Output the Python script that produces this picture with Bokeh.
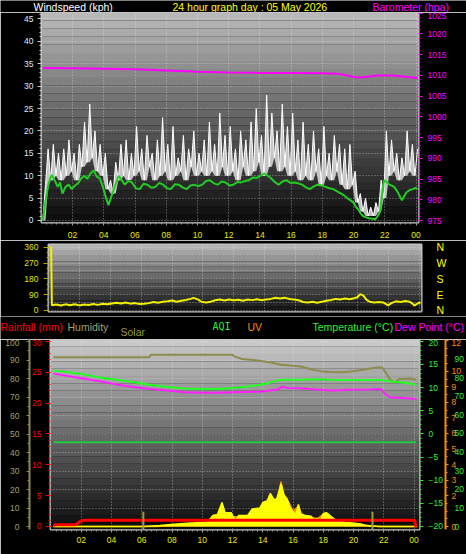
import numpy as np
from bokeh.plotting import figure
from bokeh.models import (Range1d, LinearAxis, FixedTicker, Grid)
from bokeh.layouts import column
from bokeh.embed import file_html
from bokeh.resources import INLINE
from bokeh.core.properties import value

# ------------------------------------------------------------------ data
HOUR_TICKS = [2, 4, 6, 8, 10, 12, 14, 16, 18, 20, 22, 24]
HOUR_LABELS = ["02", "04", "06", "08", "10", "12", "14", "16", "18", "20", "22", "00"]

# wind gust (kph), one reading every 10 minutes from 00:06
gust = [0, 8, 16, 9, 17, 10, 15, 9, 16, 10, 18, 11, 15, 9, 17, 12, 22, 13, 26, 14,
        20, 11, 17, 10, 15, 7, 9, 6, 13, 9, 17, 10, 18, 9, 15, 10, 21, 11, 16, 9,
        19, 12, 15, 9, 18, 10, 23, 11, 17, 9, 21, 10, 14, 11, 19, 9, 16, 12, 20, 10,
        15, 11, 18, 10, 22, 11, 17, 10, 24, 12, 19, 10, 21, 11, 16, 9, 20, 12, 18, 10,
        22, 11, 25, 13, 19, 10, 28, 12, 24, 14, 20, 11, 26, 12, 21, 10, 24, 11, 18, 9,
        22, 10, 17, 9, 20, 11, 16, 8, 21, 10, 15, 9, 19, 11, 17, 8, 16, 7, 17, 8,
        11, 4, 6, 2, 5, 1, 3, 1, 4, 2, 9, 5, 20, 10, 18, 11, 15, 9, 14, 10,
        20, 11, 17, 10, 16]
gust_t = [round(0.1 + i / 6, 4) for i in range(len(gust))]

# average wind speed (kph)
avg_t = [0.10, 0.25, 0.45, 0.65, 0.85, 1.05, 1.2, 1.35, 1.55, 1.75, 1.95, 2.15, 2.35, 2.55, 2.75,
         2.95, 3.15, 3.35, 3.55, 3.75, 3.95, 4.15, 4.3, 4.45, 4.6, 4.8, 4.95, 5.15, 5.35, 5.55,
         5.8, 6.05, 6.3, 6.55, 6.8, 7.05, 7.3, 7.55, 7.8, 8.05, 8.3, 8.55, 8.8, 9.05, 9.3,
         9.55, 9.8, 10.05, 10.3, 10.55, 10.8, 11.05, 11.3, 11.55, 11.8, 12.05, 12.3, 12.55, 12.8, 13.05,
         13.3, 13.55, 13.8, 14.05, 14.3, 14.5, 14.7, 14.95, 15.2, 15.45, 15.7, 15.95, 16.2, 16.45, 16.7,
         16.95, 17.2, 17.45, 17.7, 17.95, 18.2, 18.45, 18.7, 18.95, 19.2, 19.4, 19.6, 19.8, 20.0, 20.15,
         20.3, 20.45, 20.6, 20.8, 21.0, 21.2, 21.4, 21.55, 21.7, 21.8, 21.95, 22.15, 22.3, 22.45, 22.6,
         22.8, 22.95, 23.1, 23.25, 23.4, 23.6, 23.8, 23.95, 24.1]
avg = [0, 4, 8, 10.2, 9, 7.5, 8.5, 6, 7.5, 8, 7, 7.8, 8.3, 9.4, 10,
       9.3, 10.5, 11.2, 9.8, 9.4, 7.4, 5, 3.4, 5, 6.6, 8.5, 10, 9, 8, 8.8,
       8.5, 7.2, 7, 8.2, 8, 7.3, 7.5, 8.4, 8, 7.2, 7, 8.1, 8, 7.4, 7,
       7.8, 8, 7.6, 8, 8.8, 9, 8.3, 8, 8.7, 8.5, 7.8, 8, 8.6, 8.5, 8.8,
       9, 9.6, 9.5, 10, 10.5, 10, 9.5, 8.6, 8, 8.7, 9, 8.4, 8.5, 8.3, 8,
       7.4, 7, 7.6, 8, 7.8, 7.5, 7.2, 7, 6.5, 6, 5.6, 5, 4.5, 4, 3,
       2.5, 1.6, 1, 0.7, 0.5, 0.4, 0.3, 1, 2, 5, 9, 8.5, 8, 7.8, 7.5,
       6.5, 5.5, 4.5, 5.5, 6.3, 6.8, 7, 7.3, 7]

# barometer (hPa)
baro_t = [0.1, 2, 4, 6, 8, 10, 12, 14, 16, 18, 19, 19.6, 20.2, 20.8, 21.5, 22.5, 23.3, 24.1]
baro = [1011.8, 1011.7, 1011.6, 1011.5, 1011.2, 1010.9, 1010.7, 1010.6, 1010.6,
        1010.5, 1010.4, 1010.0, 1009.5, 1009.6, 1010.0, 1010.0, 1009.7, 1009.4]

# wind direction (degrees)
dir_t = [0.10, 0.17, 0.22, 0.5, 0.8, 1.1, 1.4, 1.7, 2.0, 2.3, 2.6, 2.9, 3.2, 3.5, 3.8, 4.1, 4.4,
         4.7, 5.0, 5.3, 5.6, 5.9, 6.2, 6.5, 6.8, 7.1, 7.4, 7.7, 8.0, 8.3, 8.6, 8.9, 9.2, 9.4,
         9.7, 9.9, 10.2, 10.5, 10.8, 11.1, 11.4, 11.7, 12.0, 12.3, 12.6, 12.9, 13.2, 13.5, 13.8,
         14.1, 14.4, 14.7, 15.0, 15.3, 15.6, 15.9, 16.2, 16.5, 16.8, 17.1, 17.4, 17.7, 18.0, 18.3,
         18.6, 18.9, 19.2, 19.5, 19.8, 20.0, 20.2, 20.4, 20.6, 20.8, 21.1, 21.4, 21.7, 21.9, 22.0,
         22.2, 22.5, 22.8, 23.1, 23.4, 23.6, 23.7, 23.9, 24.1]
wdir = [360, 360, 30, 34, 28, 35, 30, 36, 29, 34, 31, 37, 32, 38, 36, 40, 44,
        40, 45, 39, 42, 37, 38, 42, 48, 44, 50, 53, 57, 50, 55, 60, 66, 72,
        62, 50, 46, 50, 58, 62, 57, 63, 58, 61, 56, 62, 59, 64, 58,
        62, 66, 72, 68, 73, 65, 62, 58, 48, 45, 50, 44, 50, 55, 60,
        66, 62, 68, 64, 70, 75, 93, 85, 60, 50, 46, 48, 45, 35, 28,
        42, 52, 48, 54, 50, 38, 28, 40, 47]

# humidity (%)
hum_t = [0.16, 6.5, 6.6, 12.0, 12.1, 12.6, 13.4, 14.0, 14.6, 15.2, 15.8, 16.5, 17.2, 17.8,
         18.5, 19.3, 20.0, 20.6, 21.2, 21.6, 21.9, 22.1, 22.4, 22.7, 23.0, 23.7, 24.16]
hum = [91.5, 91.5, 92.8, 92.8, 92.0, 90.6, 90.0, 89.3, 88.5, 87.5, 87.0, 86.5, 85.0, 84.0,
       83.5, 83.4, 84.0, 84.8, 85.5, 86.0, 86.0, 83.5, 79.8, 77.5, 79.8, 80.0, 79.3]

# temperature and dew point (deg C)
temp_t = [0.16, 0.6, 1.9, 3.3, 4.4, 5.4, 6.5, 7.7, 8.8, 9.9, 11.0, 12.0, 13.0, 13.8,
          14.4, 14.9, 15.3, 16.5, 17.5, 18.6, 19.8, 21.0, 21.9, 22.5, 23.0, 23.6, 24.16]
temp = [13.7, 13.5, 13.0, 12.1, 11.7, 11.2, 10.6, 10.1, 9.8, 9.7, 9.7, 9.9, 10.2, 10.6,
        11.0, 11.5, 11.7, 11.7, 11.8, 11.7, 11.6, 11.6, 11.6, 11.3, 11.15, 10.9, 10.6]
dew_t = [0.16, 1.3, 3.3, 4.4, 5.4, 6.5, 7.7, 8.8, 9.9, 11.0, 12.0, 13.8, 15.0, 15.3,
         15.6, 16.4, 17.5, 18.6, 19.8, 21.0, 21.8, 22.1, 22.4, 23.0, 23.6, 24.16]
dew = [13.0, 12.4, 11.3, 10.6, 10.1, 9.7, 9.35, 9.0, 8.85, 8.9, 9.0, 9.1, 9.6, 10.2,
       9.9, 9.85, 9.6, 9.35, 9.5, 9.6, 9.7, 8.6, 7.9, 7.8, 7.7, 7.5]

# air quality index
aqi_t = [0.16, 24.16]
aqi = [45.3, 45.3]

# rainfall (mm)
rain_t = [0.16, 0.3, 1.6, 1.75, 1.85, 2.0, 2.1, 24.05, 24.1, 24.16]
rain = [0.2, 0.3, 0.3, 0.5, 0.7, 0.9, 1.0, 1.0, 0.0, 0.0]

# solar radiation (W/m2)
solar_t = [0.16, 6.1, 7.2, 8.5, 9.5, 10.3, 10.5, 10.7, 11.0, 11.3, 11.5, 11.9, 12.2, 12.4,
           13.0, 13.3, 13.8, 14.0, 14.3, 14.5, 14.7, 14.9, 15.1, 15.2, 15.4, 15.6, 15.8,
           16.0, 16.2, 16.35, 16.5, 16.8, 17.2, 17.4, 17.6, 17.8, 18.0, 18.2, 18.5, 18.9,
           19.5, 20.4, 20.8, 21.5, 21.8, 24.16]
solar = [0, 0, 5, 15, 20, 25, 40, 60, 65, 130, 75, 75, 30, 60,
         60, 95, 100, 130, 140, 180, 150, 145, 200, 230, 170, 150, 100,
         80, 65, 120, 70, 60, 55, 30, 45, 30, 70, 75, 55, 30,
         22, 15, 5, 2, 0, 0]

# UV index
uv_t = [0.16, 7.0, 8.0, 9.5, 10.4, 10.5, 11.0, 11.3, 11.6, 12.0, 12.5, 13.0, 13.3, 13.8,
        14.2, 14.5, 14.8, 15.0, 15.2, 15.4, 15.7, 16.0, 16.35, 16.6, 17.2, 17.6, 18.0,
        18.3, 18.6, 19.0, 20.0, 20.5, 21.0, 21.6, 24.16]
uv = [0, 0, 0.05, 0.15, 0.2, 0.45, 0.6, 1.0, 0.7, 0.65, 0.6, 0.7, 0.9, 1.0,
      1.3, 1.7, 1.5, 1.8, 2.9, 2.0, 1.6, 1.0, 1.3, 0.7, 0.6, 0.5, 0.8,
      0.8, 0.55, 0.3, 0.2, 0.15, 0.05, 0, 0]

# sunrise / sunset markers (hour)
sun_events = [6.1, 21.25]

# axis tick labels
WIND_TICKS = [0, 5, 10, 15, 20, 25, 30, 35, 40, 45]
BARO_TICKS = [975, 980, 985, 990, 995, 1000, 1005, 1010, 1015, 1020, 1025]
DIR_TICKS = [0, 90, 180, 270, 360]
COMPASS = ["N", "E", "S", "W", "N"]
HUM_TICKS = [0, 10, 20, 30, 40, 50, 60, 70, 80, 90, 100]
RAIN_TICKS = [0, 5, 10, 15, 20, 25, 30]
TEMP_TICKS = [-20, -15, -10, -5, 0, 5, 10, 15, 20]
UV_TICKS = [0, 2, 3, 4, 5, 6, 7, 8, 9, 10, 12]
AQI_TICKS = [0, 10, 20, 30, 40, 50, 60, 70, 80, 90]

# header texts
TOP_TITLES = ["Windspeed (kph)", "24 hour graph day : 05 May 2026", "Barometer (hpa)"]
TOP_COLORS = ["#ffffff", "#ffff00", "#ff00ff"]
LOW_TITLES = ["Rainfall (mm)", "Humidity", "UV", "Temperature (°C)", "Dew Point (°C)"]
LOW_COLORS = ["#ff0000", "#a0a070", "#ff8c1a", "#33ee33", "#ff00ff"]

# ------------------------------------------------------------------ helpers
FONT = "Liberation Sans"
TICK_SIZE = "8.5px"
TITLE_SIZE = "10.5px"
W = 466


def style_axis(ax, color, tick_color=None, tick_out=4, standoff=3, minor_out=2,
               line_color=None, size=TICK_SIZE):
    tc = tick_color or color
    ax.major_label_text_color = color
    ax.major_label_text_font = FONT
    ax.major_label_text_font_size = size
    ax.major_tick_line_color = tc
    ax.major_tick_out = tick_out
    ax.major_tick_in = 0
    ax.minor_tick_line_color = tc
    ax.minor_tick_out = minor_out
    ax.minor_tick_in = 0
    ax.major_label_standoff = standoff
    ax.axis_line_color = line_color


def gradient(p, y0, y1, top_gray, bottom_gray, n, x0, x1):
    edges = np.linspace(y0, y1, n + 1)
    grays = np.linspace(bottom_gray, top_gray, n).astype(int)
    cols = ["#%02x%02x%02x" % (g, g, g) for g in grays]
    p.quad(left=x0, right=x1, bottom=list(edges[:-1]), top=list(edges[1:]),
           fill_color=cols, line_color=None, level="image")


def make_fig(h, xr, yr, left, right, top, bottom):
    p = figure(width=W, height=h, x_range=xr, y_range=yr, output_backend="svg",
               toolbar_location=None, min_border_left=left, min_border_right=right,
               min_border_top=top, min_border_bottom=bottom, frame_align=False,
               background_fill_color="black", border_fill_color="black",
               outline_line_color="#c8c8c8", outline_line_width=2)
    p.grid.grid_line_color = "#e6e6e6"
    p.grid.grid_line_dash = "1 2"
    p.grid.grid_line_alpha = 0.55
    return p


def header(h):
    p = figure(width=W, height=h, x_range=Range1d(0, W), y_range=Range1d(0, h),
               output_backend="svg", toolbar_location=None, x_axis_location=None,
               y_axis_location=None, min_border=0, frame_align=False,
               background_fill_color="black", border_fill_color="black",
               outline_line_color=None)
    p.grid.visible = False
    return p


hour_minor = [round(m / 3, 3) for m in range(1, 73) if m % 6 != 0]

# ------------------------------------------------------------------ header above top panel
h1 = header(12)
h1.text(x=[33, 172, 372], y=[6] * 3, text=TOP_TITLES, text_color=TOP_COLORS,
        text_font=value(FONT), text_font_size=value(TITLE_SIZE), text_baseline="middle")

# ------------------------------------------------------------------ top: wind + barometer
p1 = make_fig(228, Range1d(0.01, 24.16), Range1d(-0.45, 46.45), 41, 48, 0, 18)
p1.extra_y_ranges = {"baro": Range1d(974.52, 1025.17)}
gradient(p1, -0.45, 46.45, 184, 14, 26, 0.01, 24.16)

p1.xaxis.ticker = FixedTicker(ticks=HOUR_TICKS, minor_ticks=hour_minor)
p1.xaxis.major_label_overrides = dict(zip(HOUR_TICKS, HOUR_LABELS))
style_axis(p1.xaxis[0], "#e8e800", tick_color="#9a9a9a", tick_out=3, standoff=6)
p1.yaxis.ticker = FixedTicker(ticks=WIND_TICKS, minor_ticks=list(range(0, 47)))
style_axis(p1.yaxis[0], "#dce8ff", tick_color="#c8c8c8", tick_out=4, standoff=4)
baro_axis = LinearAxis(y_range_name="baro",
                       ticker=FixedTicker(ticks=BARO_TICKS, minor_ticks=list(range(975, 1026))))
style_axis(baro_axis, "#ff00ff", tick_out=4, standoff=5)
p1.add_layout(baro_axis, "right")
p1.xgrid.ticker = FixedTicker(ticks=HOUR_TICKS)
p1.ygrid.ticker = FixedTicker(ticks=WIND_TICKS)

# filled spikes of the gust trace (down to the lower neighbouring reading)
g = np.array(gust, dtype=float)
g_lo = np.minimum(np.minimum(g, np.roll(g, 1)), np.roll(g, -1))
g_lo[0], g_lo[-1] = g[0], g[-1]
p1.varea(x=gust_t, y1=list(g_lo), y2=gust, fill_color="#d4d4d4", fill_alpha=0.9)
p1.line(gust_t, gust, color="#ffffff", line_width=1)
p1.line(avg_t, avg, color="#22cc22", line_width=2)
p1.line(baro_t, baro, color="#ff00ff", line_width=2, y_range_name="baro")

# ------------------------------------------------------------------ middle: wind direction
p2 = make_fig(76, Range1d(0, 24.16), Range1d(-5.7, 375.4), 48, 45, 4, 5)
gradient(p2, -5.7, 375.4, 178, 22, 12, 0, 24.16)
p2.xaxis.visible = False
p2.yaxis.ticker = FixedTicker(ticks=DIR_TICKS, minor_ticks=list(range(0, 361, 30)))
style_axis(p2.yaxis[0], "#e0e000", tick_color="#a8a800", tick_out=5, standoff=5)
p2.xgrid.ticker = FixedTicker(ticks=HOUR_TICKS)
p2.ygrid.ticker = FixedTicker(ticks=list(range(0, 361, 45)))
comp_axis = LinearAxis(ticker=FixedTicker(ticks=DIR_TICKS, minor_ticks=[]))
comp_axis.major_label_overrides = dict(zip(DIR_TICKS, COMPASS))
style_axis(comp_axis, "#ffff00", tick_out=0, standoff=15, size="10.5px")
comp_axis.major_tick_line_color = None
p2.add_layout(comp_axis, "right")
p2.line(dir_t, wdir, color="#f0f000", line_width=2)

# ------------------------------------------------------------------ header above bottom panel
h3 = header(23)
h3.text(x=[0, 67, 247, 312, 394], y=[13] * 5, text=LOW_TITLES, text_color=LOW_COLORS,
        text_font=value(FONT), text_font_size=value(TITLE_SIZE), text_baseline="middle")
h3.text(x=[120], y=[8], text=["Solar"], text_color="#9a9a30",
        text_font=value(FONT), text_font_size=value(TITLE_SIZE), text_baseline="middle")
h3.text(x=[212], y=[13], text=["AQI"], text_color="#22ee44",
        text_font=value("DejaVu Sans Mono"), text_font_size=value("10px"),
        text_baseline="middle")

# ------------------------------------------------------------------ bottom: temperature etc
p3 = make_fig(215, Range1d(-0.04, 24.36), Range1d(-20.65, 20.37), 50, 46, 0, 25)
p3.extra_y_ranges = {"hum": Range1d(-1.6, 101.1), "rain": Range1d(-0.49, 30.32),
                     "uv": Range1d(-0.19, 12.06), "aqi": Range1d(-1.6, 100.5),
                     "solar": Range1d(-16, 1011)}
gradient(p3, -20.65, 20.37, 200, 14, 26, -0.04, 24.36)

p3.xaxis.ticker = FixedTicker(ticks=HOUR_TICKS, minor_ticks=hour_minor)
p3.xaxis.major_label_overrides = dict(zip(HOUR_TICKS, HOUR_LABELS))
style_axis(p3.xaxis[0], "#e8e800", tick_color="#9a9a9a", tick_out=3, standoff=4)
p3.yaxis.visible = False
p3.xgrid.ticker = FixedTicker(ticks=HOUR_TICKS)
p3.ygrid.visible = False
p3.add_layout(Grid(dimension=1, ticker=FixedTicker(ticks=HUM_TICKS), y_range_name="hum",
                   grid_line_color="#e6e6e6", grid_line_dash="1 2", grid_line_alpha=0.55))

rain_axis = LinearAxis(y_range_name="rain",
                       ticker=FixedTicker(ticks=RAIN_TICKS, minor_ticks=list(range(0, 31))))
style_axis(rain_axis, "#ff0000", tick_out=5, standoff=4)
p3.add_layout(rain_axis, "left")
hum_axis = LinearAxis(y_range_name="hum",
                      ticker=FixedTicker(ticks=HUM_TICKS, minor_ticks=list(range(0, 101, 5))))
style_axis(hum_axis, "#a0a070", tick_color="#8c8c50", tick_out=3, standoff=7,
           line_color="#8c8c50")
hum_axis.axis_line_width = 2
p3.add_layout(hum_axis, "left")

temp_axis = LinearAxis(ticker=FixedTicker(ticks=TEMP_TICKS, minor_ticks=list(range(-20, 21))))
style_axis(temp_axis, "#33ee33", tick_out=4, standoff=5)
p3.add_layout(temp_axis, "right")
uv_axis = LinearAxis(y_range_name="uv",
                     ticker=FixedTicker(ticks=UV_TICKS, minor_ticks=[x / 2 for x in range(0, 25)]))
style_axis(uv_axis, "#ff8c1a", tick_color="#ff8c00", tick_out=3, standoff=3,
           line_color="#ff8c00")
uv_axis.axis_line_width = 2
p3.add_layout(uv_axis, "right")
aqi_axis = LinearAxis(y_range_name="aqi", ticker=FixedTicker(ticks=AQI_TICKS, minor_ticks=[]))
style_axis(aqi_axis, "#33ee33", tick_out=0, standoff=-9)
aqi_axis.major_tick_line_color = None
p3.add_layout(aqi_axis, "right")

# data
p3.varea(x=uv_t, y1=0, y2=uv, fill_color="#ff8c00", y_range_name="uv")
p3.line(uv_t, uv, color="#ff8c00", line_width=1.5, y_range_name="uv")
p3.varea(x=solar_t, y1=0, y2=solar, fill_color="#ffff00", y_range_name="solar")
p3.line(solar_t, solar, color="#ffff00", line_width=1.5, y_range_name="solar")
p3.line(rain_t, rain, color="#ff0000", line_width=3, y_range_name="rain")
p3.segment(x0=sun_events, x1=sun_events, y0=[-1.6] * 2, y1=[8] * 2, color="#9a9a40",
           line_width=2, y_range_name="hum")
p3.line(aqi_t, aqi, color="#22cc44", line_width=2, y_range_name="aqi")
p3.line(hum_t, hum, color="#8c8c4c", line_width=2, y_range_name="hum")
p3.line(temp_t, temp, color="#22ff22", line_width=2)
p3.line(dew_t, dew, color="#ff22ff", line_width=2)

layout = column(h1, p1, p2, h3, p3, spacing=0)
open("out.html", "w").write(file_html(layout, INLINE))
